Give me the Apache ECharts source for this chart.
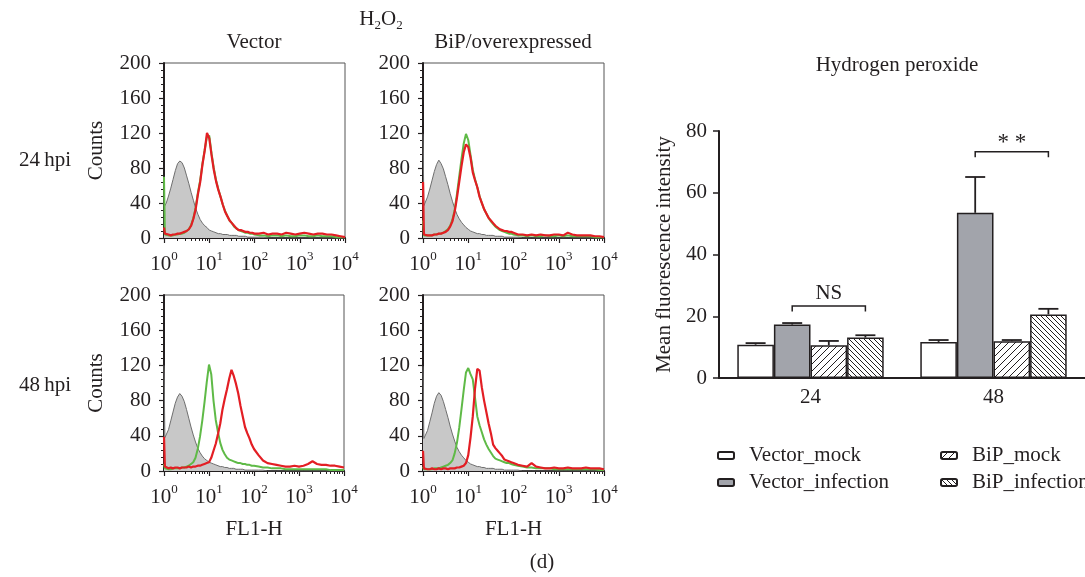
<!DOCTYPE html>
<html>
<head>
<meta charset="utf-8">
<script src="https://cdn.jsdelivr.net/npm/echarts@6/dist/echarts.min.js"></script>
<style>
html, body { margin: 0; padding: 0; background: #fff; }
#chart { width: 1085px; height: 577px; }
</style>
</head>
<body>
<div id="chart"></div>
<script>
// histogram channels, in decades (x = 10^bin)
var bins = [0, 0.02, 0.05, 0.1, 0.15, 0.2, 0.25, 0.3, 0.35, 0.4,
	0.45, 0.5, 0.55, 0.6, 0.65, 0.7, 0.75, 0.8, 0.85, 0.9,
	0.95, 1.0, 1.05, 1.1, 1.15, 1.2, 1.25, 1.3, 1.35, 1.4,
	1.45, 1.5, 1.55, 1.6, 1.65, 1.7, 1.75, 1.8, 1.85, 1.9,
	1.95, 2.0, 2.1, 2.2, 2.3, 2.4, 2.5, 2.6, 2.7, 2.8,
	2.9, 3.0, 3.1, 3.2, 3.3, 3.4, 3.5, 3.6, 3.7, 3.8,
	3.9, 4.0];

// 24 hpi, Vector
var grayTL = [40, 37, 40, 48, 57, 67, 77, 85, 88, 86, 80, 71, 62, 52, 43, 34, 27, 21, 17, 14,
	12, 9, 8, 7, 6, 5, 5, 4, 4, 4, 3, 3, 3, 3, 2, 2, 2, 2, 1, 1, 1, 1,
	1, 1, 0, 0, 0, 0, 0, 0, 0, 0, 0, 0, 0, 0, 0, 0, 0, 0, 0, 0];
var greenTL = [70, 4, 3, 3, 3, 3, 4, 4, 5, 5, 6, 8, 10, 15, 23, 35, 52, 66, 85, 101,
	116, 117, 97, 80, 66, 56, 47, 38, 31, 25, 20, 17, 13, 11, 9, 8, 7, 6, 6, 5, 5, 4,
	3, 3, 2, 3, 3, 2, 3, 2, 2, 3, 3, 2, 2, 3, 2, 2, 2, 1, 1, 1];
var redTL = [12, 5, 4, 4, 3, 4, 4, 5, 5, 6, 7, 8, 10, 14, 22, 33, 50, 64, 84, 100,
	120, 114, 95, 78, 65, 55, 47, 38, 30, 25, 20, 17, 14, 11, 9, 9, 8, 7, 7, 6, 6, 5,
	5, 6, 4, 5, 5, 4, 6, 5, 4, 5, 6, 5, 4, 5, 5, 4, 4, 3, 2, 1];

// 24 hpi, BiP/overexpressed
var grayTR = [119, 37, 39, 47, 56, 66, 76, 84, 89, 85, 79, 70, 61, 51, 42, 34, 27, 22, 18, 15,
	12, 10, 8, 7, 6, 5, 5, 4, 4, 3, 3, 3, 3, 2, 2, 2, 2, 1, 1, 1, 1, 1,
	1, 0, 0, 0, 0, 0, 0, 0, 0, 0, 0, 0, 0, 0, 0, 0, 0, 0, 0, 0];
var greenTR = [20, 3, 3, 3, 3, 3, 4, 4, 5, 5, 6, 8, 10, 14, 21, 32, 50, 70, 90, 108,
	119, 112, 95, 78, 67, 58, 48, 40, 33, 28, 23, 19, 16, 13, 11, 9, 8, 7, 6, 5, 5, 4,
	3, 3, 2, 3, 2, 2, 3, 2, 2, 3, 2, 3, 2, 2, 2, 2, 2, 1, 1, 1];
var redTR = [64, 4, 3, 3, 3, 3, 4, 4, 5, 5, 6, 7, 9, 13, 19, 30, 46, 64, 82, 98,
	107, 104, 92, 75, 66, 58, 47, 40, 33, 28, 23, 20, 17, 14, 12, 10, 9, 8, 8, 7, 7, 6,
	4, 4, 3, 4, 3, 4, 3, 3, 4, 4, 3, 6, 4, 3, 3, 3, 3, 2, 2, 1];

// 48 hpi, Vector
var grayBL = [120, 38, 40, 47, 57, 67, 77, 84, 88, 85, 79, 70, 60, 50, 41, 33, 26, 21, 17, 14,
	12, 10, 9, 8, 7, 6, 5, 5, 4, 4, 3, 3, 3, 2, 2, 2, 2, 1, 1, 1, 1, 1,
	1, 1, 0, 0, 0, 0, 0, 0, 0, 0, 0, 0, 0, 0, 0, 0, 0, 0, 0, 0];
var greenBL = [8, 3, 2, 2, 2, 3, 3, 3, 3, 4, 4, 5, 6, 8, 10, 15, 25, 39, 57, 78,
	101, 121, 110, 80, 58, 44, 32, 24, 19, 15, 13, 12, 11, 10, 9, 9, 8, 8, 7, 7, 6, 6,
	5, 4, 4, 3, 3, 3, 2, 2, 2, 2, 2, 2, 2, 2, 2, 2, 1, 1, 1, 1];
var redBL = [39, 5, 4, 3, 4, 3, 4, 4, 3, 4, 4, 4, 5, 4, 5, 5, 6, 6, 7, 8,
	9, 10, 15, 23, 31, 42, 54, 70, 82, 93, 105, 115, 108, 99, 88, 74, 62, 50, 43, 37, 30, 25,
	18, 12, 9, 8, 7, 6, 5, 5, 6, 5, 6, 8, 11, 8, 7, 7, 6, 6, 5, 4];

// 48 hpi, BiP/overexpressed
var grayBR = [119, 37, 39, 46, 56, 66, 77, 85, 89, 86, 79, 70, 61, 51, 42, 34, 27, 22, 18, 15,
	12, 10, 8, 7, 6, 5, 5, 4, 4, 3, 3, 3, 3, 2, 2, 2, 2, 1, 1, 1, 1, 1,
	1, 0, 0, 0, 0, 0, 0, 0, 0, 0, 0, 0, 0, 0, 0, 0, 0, 0, 0, 0];
var greenBR = [5, 2, 2, 2, 2, 2, 3, 3, 3, 4, 5, 6, 7, 9, 12, 20, 32, 49, 70, 92,
	112, 117, 110, 104, 83, 62, 52, 44, 36, 30, 25, 21, 17, 14, 13, 12, 11, 10, 9, 9, 8, 7,
	6, 5, 4, 4, 3, 3, 3, 3, 2, 2, 2, 2, 2, 2, 2, 2, 2, 2, 1, 1];
var redBR = [23, 3, 2, 2, 2, 3, 2, 2, 3, 2, 3, 3, 2, 3, 3, 3, 4, 4, 5, 6,
	9, 18, 38, 62, 94, 116, 114, 95, 80, 67, 54, 43, 30, 26, 23, 20, 17, 13, 12, 11, 10, 9,
	7, 6, 5, 9, 5, 4, 3, 3, 4, 3, 3, 4, 3, 3, 3, 4, 3, 3, 3, 2];

// bar chart: Hydrogen peroxide
var categories = ['24', '48'];
var barNames = ['Vector_mock', 'Vector_infection', 'BiP_mock', 'BiP_infection'];
var vectorMock = [10.8, 11.7];
var vectorMockErr = [0.5, 0.6];
var vectorInf = [17.3, 53.5];
var vectorInfErr = [0.5, 11.6];
var bipMock = [10.6, 11.9];
var bipMockErr = [1.4, 0.4];
var bipInf = [13.1, 20.6];
var bipInfErr = [0.75, 1.8];
var sigCategory = [0, 1];
var sigHeight = [23.3, 73.3];
var sigLabel = ['NS', '* *'];

var ink = '#231f20';
var font = 'Liberation Serif';
var fs = 21;

function hatch(dir, step) {
	var c = document.createElement('canvas');
	c.width = step;
	c.height = step;
	var g = c.getContext('2d');
	g.fillStyle = '#fff';
	g.fillRect(0, 0, step, step);
	g.strokeStyle = ink;
	g.lineWidth = 1;
	g.beginPath();
	if (dir > 0) {
		g.moveTo(-1, step + 1); g.lineTo(step + 1, -1);
		g.moveTo(-1, 1); g.lineTo(1, -1);
		g.moveTo(step - 1, step + 1); g.lineTo(step + 1, step - 1);
	} else {
		g.moveTo(-1, -1); g.lineTo(step + 1, step + 1);
		g.moveTo(step - 1, -1); g.lineTo(step + 1, 1);
		g.moveTo(-1, step - 1); g.lineTo(1, step + 1);
	}
	g.stroke();
	return c;
}

function pts(arr) {
	return bins.map(function (b, k) { return [Math.pow(10, b), arr[k]]; });
}

var panels = [
	{left: 164, top: 63, width: 181, height: 175, gray: grayTL, green: greenTL, red: redTL, yName: 'Counts', xName: ''},
	{left: 423, top: 63, width: 181, height: 175, gray: grayTR, green: greenTR, red: redTR, yName: '', xName: ''},
	{left: 164, top: 295, width: 180, height: 176, gray: grayBL, green: greenBL, red: redBL, yName: 'Counts', xName: 'FL1-H'},
	{left: 423, top: 295, width: 181, height: 176, gray: grayBR, green: greenBR, red: redBR, yName: '', xName: 'FL1-H'}
];

var grids = [], xAxes = [], yAxes = [], series = [];

panels.forEach(function (p, i) {
	grids.push({left: p.left, top: p.top, width: p.width, height: p.height,
		show: true, borderColor: '#555', borderWidth: 1});
	xAxes.push({
		type: 'log', logBase: 10, min: 1, max: 10000, gridIndex: i,
		name: p.xName, nameLocation: 'middle', nameGap: 48,
		nameTextStyle: {fontFamily: font, fontSize: fs, color: ink},
		axisLine: {lineStyle: {color: ink, width: 2}},
		axisTick: {length: 5, lineStyle: {color: ink, width: 1.2}},
		minorTick: {show: true, splitNumber: 9, length: 3, lineStyle: {color: ink, width: 1}},
		splitLine: {show: false},
		minorSplitLine: {show: false},
		axisLabel: {
			margin: 12,
			formatter: function (v) {
				return '{b|10}{s|' + Math.round(Math.log10(v)) + '}';
			},
			rich: {
				b: {fontFamily: font, fontSize: fs, color: ink, lineHeight: 28},
				s: {fontFamily: font, fontSize: 13, color: ink, lineHeight: 13, verticalAlign: 'top'}
			}
		}
	});
	yAxes.push({
		type: 'value', min: 0, max: 200, interval: 40, gridIndex: i,
		name: p.yName, nameLocation: 'middle', nameGap: 57,
		nameTextStyle: {fontFamily: font, fontSize: fs, color: ink},
		axisLine: {show: true, lineStyle: {color: ink, width: 2}},
		axisTick: {show: true, length: 5, lineStyle: {color: ink, width: 1.2}},
		minorTick: {show: true, splitNumber: 5, length: 3, lineStyle: {color: ink, width: 1}},
		splitLine: {show: false},
		axisLabel: {margin: 13, fontFamily: font, fontSize: fs, color: ink}
	});
	series.push({
		type: 'line', xAxisIndex: i, yAxisIndex: i, data: pts(p.gray),
		showSymbol: false, silent: true,
		lineStyle: {color: '#6e6e6e', width: 1},
		areaStyle: {color: '#c8c8c8', opacity: 1}
	});
	series.push({
		type: 'line', xAxisIndex: i, yAxisIndex: i, data: pts(p.green),
		showSymbol: false, silent: true,
		lineStyle: {color: '#5fba47', width: 2}
	});
	series.push({
		type: 'line', xAxisIndex: i, yAxisIndex: i, data: pts(p.red),
		showSymbol: false, silent: true,
		lineStyle: {color: '#e31e24', width: 2.2}
	});
});

// bar chart grid
grids.push({left: 719, top: 131, width: 372, height: 247});
xAxes.push({
	type: 'category', gridIndex: 4, data: categories,
	axisLine: {lineStyle: {color: ink, width: 2}},
	axisTick: {alignWithLabel: true, length: 6, lineStyle: {color: ink, width: 1.5}},
	axisLabel: {margin: 9, fontFamily: font, fontSize: fs, color: ink}
});
yAxes.push({
	type: 'value', gridIndex: 4, min: 0, max: 80, interval: 20,
	name: 'Mean fluorescence intensity', nameLocation: 'middle', nameGap: 44,
	nameTextStyle: {fontFamily: font, fontSize: fs, color: ink},
	axisLine: {show: true, lineStyle: {color: ink, width: 2}},
	axisTick: {show: true, length: 6, lineStyle: {color: ink, width: 1.5}},
	splitLine: {show: false},
	axisLabel: {margin: 12, fontFamily: font, fontSize: fs, color: ink}
});

var barValues = [vectorMock, vectorInf, bipMock, bipInf];
var barErrs = [vectorMockErr, vectorInfErr, bipMockErr, bipInfErr];
var barFills = ['#fff', '#a2a4ab', {image: hatch(1, 7), repeat: 'repeat'}, {image: hatch(-1, 5), repeat: 'repeat'}];

barNames.forEach(function (name, s) {
	series.push({
		name: name, type: 'bar', xAxisIndex: 4, yAxisIndex: 4,
		data: barValues[s], barGap: '0%', barCategoryGap: '20%',
		itemStyle: {color: barFills[s], borderColor: ink, borderWidth: 1.5},
		silent: true
	});
});

var errData = [];
barNames.forEach(function (name, s) {
	categories.forEach(function (c, k) {
		errData.push([k, s, barValues[s][k], barErrs[s][k]]);
	});
});

series.push({
	type: 'custom', xAxisIndex: 4, yAxisIndex: 4, data: errData, z: 3, silent: true,
	renderItem: function (params, api) {
		var k = api.value(0), s = api.value(1);
		var bw = api.size([1, 0])[0] * 0.8 / 4;
		var cx = api.coord([k, 0])[0] + (s - 1.5) * bw;
		var y0 = api.coord([k, api.value(2)])[1];
		var y1 = api.coord([k, api.value(2) + api.value(3)])[1];
		var st = {stroke: ink, lineWidth: 1.8};
		return {type: 'group', children: [
			{type: 'line', shape: {x1: cx, y1: y0, x2: cx, y2: y1}, style: st},
			{type: 'line', shape: {x1: cx - 10, y1: y1, x2: cx + 10, y2: y1}, style: st}
		]};
	}
});

var sigData = sigCategory.map(function (c, i) { return [c, sigHeight[i], i]; });
series.push({
	type: 'custom', xAxisIndex: 4, yAxisIndex: 4, data: sigData, z: 3, silent: true,
	renderItem: function (params, api) {
		var k = api.value(0);
		var bw = api.size([1, 0])[0] * 0.8 / 4;
		var c0 = api.coord([k, 0])[0];
		var xa = c0 - 0.5 * bw, xb = c0 + 1.5 * bw;
		var y = api.coord([k, api.value(1)])[1];
		var yd = api.coord([k, api.value(1) - 1.8])[1];
		var label = sigLabel[api.value(2)];
		var star = label.indexOf('*') >= 0;
		var st = {stroke: ink, lineWidth: 1.5, fill: null};
		return {type: 'group', children: [
			{type: 'polyline', shape: {points: [[xa, yd], [xa, y], [xb, y], [xb, yd]]}, style: st},
			{type: 'text', x: (xa + xb) / 2, y: y - (star ? 9 : 13), style: {
				text: label, textAlign: 'center', textVerticalAlign: 'middle',
				fontFamily: font, fontSize: star ? 23 : fs, fill: ink}}
		]};
	}
});

var legendCommon = {
	orient: 'vertical', itemWidth: 16, itemHeight: 7, itemGap: 6,
	selectedMode: false, padding: 0,
	textStyle: {fontFamily: font, fontSize: fs, color: ink, padding: [0, 0, 0, 10]}
};

function textAt(x, y, text, rich) {
	return {type: 'text', x: x, y: y, style: {
		text: text, textAlign: 'center', textVerticalAlign: 'middle',
		fontFamily: font, fontSize: fs, fill: ink, rich: rich
	}};
}

var option = {
	backgroundColor: '#fff',
	animation: false,
	grid: grids,
	xAxis: xAxes,
	yAxis: yAxes,
	series: series,
	legend: [
		Object.assign({left: 717, top: 445, data: barNames.slice(0, 2)}, legendCommon),
		Object.assign({left: 940, top: 445, data: barNames.slice(2)}, legendCommon)
	],
	graphic: [
		textAt(381, 19, '{b|H}{d|2}{b|O}{d|2}', {
			b: {fontFamily: font, fontSize: fs, fill: ink, lineHeight: 26},
			d: {fontFamily: font, fontSize: 13, fill: ink, lineHeight: 13, verticalAlign: 'bottom'}
		}),
		textAt(254, 42, 'Vector'),
		textAt(513, 42, 'BiP/overexpressed'),
		textAt(45, 160, '24\u2009hpi'),
		textAt(45, 385, '48\u2009hpi'),
		textAt(897, 65, 'Hydrogen peroxide'),
		textAt(542, 562, '(d)')
	]
};

var chart = echarts.init(document.getElementById('chart'));
chart.setOption(option);
</script>
</body>
</html>
